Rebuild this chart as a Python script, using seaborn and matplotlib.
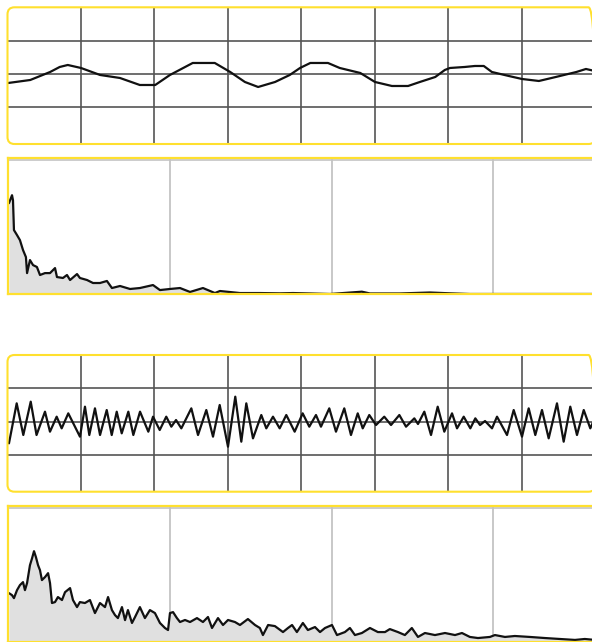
import numpy as np
import matplotlib
matplotlib.use("Agg")
import matplotlib.pyplot as plt
from matplotlib.patches import FancyBboxPatch
import seaborn as sns

sns.set_style("white")
plt.rcParams['font.family'] = ['DejaVu Sans']

# ---------------- data ----------------
# Scope trace 1 (time in divisions, amplitude in divisions)
t1 = [0.01, 0.31, 0.58, 0.71, 0.82, 1.00, 1.26, 1.53, 1.80, 2.01, 2.21, 2.52, 2.82,
      3.03, 3.23, 3.41, 3.64, 3.84, 3.98, 4.12, 4.36, 4.52, 4.80, 5.00, 5.23, 5.45,
      5.61, 5.82, 5.95, 6.02, 6.22, 6.36, 6.48, 6.59, 6.82, 7.00, 7.23, 7.46, 7.74,
      7.87, 7.99]
v1 = [-0.27, -0.18, 0.06, 0.21, 0.27, 0.18, -0.03, -0.12, -0.33, -0.33, -0.03, 0.33,
      0.33, 0.06, -0.24, -0.39, -0.24, -0.03, 0.18, 0.33, 0.33, 0.18, 0.03, -0.24,
      -0.36, -0.36, -0.24, -0.09, 0.12, 0.18, 0.21, 0.24, 0.24, 0.06, -0.06, -0.15,
      -0.21, -0.09, 0.06, 0.15, 0.09]

# Scope trace 2
t2 = [0.02, 0.125, 0.215, 0.316, 0.395, 0.510, 0.578, 0.669, 0.737, 0.827, 0.986, 1.054,
      1.113, 1.190, 1.259, 1.350, 1.418, 1.486, 1.554, 1.644, 1.712, 1.803, 1.916, 1.980,
      2.071, 2.160, 2.229, 2.293, 2.365, 2.501, 2.592, 2.705, 2.796, 2.887, 3.000, 3.099,
      3.181, 3.249, 3.340, 3.453, 3.521, 3.612, 3.703, 3.793, 3.907, 4.016, 4.106, 4.197,
      4.265, 4.378, 4.469, 4.582, 4.673, 4.765, 4.833, 4.922, 5.014, 5.126, 5.218, 5.331,
      5.422, 5.535, 5.585, 5.671, 5.762, 5.853, 5.943, 6.048, 6.116, 6.207, 6.297, 6.365,
      6.429, 6.497, 6.592, 6.660, 6.796, 6.887, 7.000, 7.091, 7.181, 7.272, 7.363, 7.476,
      7.567, 7.657, 7.748, 7.840, 7.929, 7.990]
v2 = [-0.65, 0.55, -0.40, 0.60, -0.40, 0.30, -0.30, 0.15, -0.20, 0.25, -0.45, 0.45,
      -0.40, 0.40, -0.40, 0.35, -0.40, 0.30, -0.35, 0.30, -0.40, 0.30, -0.30, 0.15,
      -0.25, 0.15, -0.15, 0.05, -0.20, 0.40, -0.40, 0.35, -0.45, 0.50, -0.75, 0.75,
      -0.60, 0.55, -0.50, 0.20, -0.20, 0.15, -0.20, 0.20, -0.30, 0.25, -0.15, 0.20,
      -0.15, 0.40, -0.30, 0.40, -0.40, 0.25, -0.20, 0.20, -0.10, 0.15, -0.10, 0.20,
      -0.15, 0.10, -0.07, 0.30, -0.40, 0.45, -0.30, 0.25, -0.20, 0.15, -0.20, 0.10,
      -0.10, 0.02, -0.20, 0.15, -0.40, 0.35, -0.45, 0.40, -0.40, 0.35, -0.50, 0.55,
      -0.60, 0.45, -0.40, 0.35, -0.20, 0.10]

# Spectrum 1 (frequency in divisions, magnitude in % of full scale)
f1 = [0.004, 0.023, 0.029, 0.035, 0.054, 0.072, 0.091, 0.109, 0.116, 0.134, 0.153, 0.177,
      0.196, 0.227, 0.258, 0.289, 0.301, 0.338, 0.363, 0.382, 0.425, 0.443, 0.487, 0.524,
      0.567, 0.610, 0.641, 0.691, 0.753, 0.814, 0.895, 0.938, 1.000, 1.062, 1.124, 1.204,
      1.278, 1.309, 1.433, 1.556, 1.680, 1.761, 1.866, 1.990, 2.187, 2.237, 2.422, 2.608,
      2.732, 2.855, 3.610]
m1 = [66.9, 72.8, 69.1, 47.1, 43.4, 39.7, 32.4, 27.2, 15.4, 25.0, 21.3, 19.9,
      14.0, 15.4, 15.4, 19.1, 12.5, 11.8, 14.0, 10.3, 14.7, 11.8, 10.3, 8.1,
      8.1, 9.6, 4.4, 5.9, 3.7, 4.4, 6.6, 2.9, 3.7, 4.4, 1.5, 4.4,
      0.7, 2.2, 0.7, 0.7, 0.5, 0.7, 0.4, 0.0, 1.7, 0.4, 0.4, 1.1,
      0.5, 0.0, 0.0]

# Spectrum 2
f2 = [0.004, 0.023, 0.035, 0.054, 0.072, 0.091, 0.103, 0.116, 0.134, 0.147, 0.159, 0.171,
      0.184, 0.196, 0.208, 0.227, 0.246, 0.258, 0.270, 0.289, 0.307, 0.332, 0.351, 0.382,
      0.400, 0.425, 0.443, 0.474, 0.505, 0.536, 0.567, 0.598, 0.617, 0.641, 0.660, 0.678,
      0.703, 0.722, 0.740, 0.765, 0.784, 0.814, 0.845, 0.876, 0.907, 0.938, 0.969, 0.988,
      1.000, 1.019, 1.043, 1.062, 1.093, 1.124, 1.167, 1.204, 1.235, 1.260, 1.297, 1.328,
      1.359, 1.402, 1.433, 1.482, 1.526, 1.556, 1.575, 1.607, 1.649, 1.699, 1.730, 1.755,
      1.785, 1.822, 1.853, 1.897, 1.928, 1.959, 2.002, 2.033, 2.082, 2.113, 2.144, 2.187,
      2.237, 2.286, 2.330, 2.360, 2.410, 2.453, 2.496, 2.534, 2.577, 2.639, 2.701, 2.763,
      2.806, 2.855, 2.905, 2.979, 3.010, 3.072, 3.133, 3.226, 3.319, 3.412, 3.505, 3.566,
      3.628]
m2 = [35.8, 34.3, 32.1, 38.0, 41.7, 43.9, 38.0, 43.2, 56.4, 61.5, 66.7, 62.3,
      56.4, 52.7, 45.4, 47.6, 50.5, 43.2, 28.5, 29.2, 32.9, 30.7, 36.5, 39.5,
      30.7, 25.5, 29.2, 28.5, 30.7, 21.1, 28.5, 25.5, 32.9, 23.3, 19.6, 17.4,
      25.5, 15.9, 23.3, 13.8, 18.2, 25.5, 17.4, 23.3, 21.1, 13.8, 10.1, 8.6,
      21.1, 21.8, 17.4, 14.5, 16.0, 14.5, 17.4, 14.5, 18.2, 10.1, 17.4, 12.3,
      16.0, 14.5, 12.3, 16.7, 12.3, 10.1, 4.9, 12.3, 11.5, 7.1, 10.1, 12.3,
      7.1, 13.8, 8.6, 10.8, 7.1, 10.1, 12.3, 4.9, 7.1, 10.1, 4.9, 6.4,
      10.1, 7.1, 7.1, 9.3, 7.1, 4.9, 10.1, 3.5, 6.4, 4.9, 6.4, 4.9,
      6.4, 3.5, 2.7, 3.5, 4.9, 3.5, 4.2, 3.5, 2.7, 2.0, 1.3, 2.0,
      1.3]

# ---------------- layout ----------------
W, H = 592, 642
fig = plt.figure(figsize=(W / 100, H / 100), dpi=100)
fig.patch.set_facecolor("white")

YELLOW = "#FFE02E"
SCOPE_GRID = "#555555"
SPEC_GRID = "#c4c4c4"


def ax_px(x0, y0, x1, y1):
    return fig.add_axes([x0 / W, 1 - y1 / H, (x1 - x0) / W, (y1 - y0) / H])


def scope(y0, y1, t, v):
    x0, x1 = 7.5, 595.5
    ax = ax_px(x0, y0, x1, y1)
    ax.set_xlim(0, 8)
    ax.set_ylim(-2.1, 2.0)
    ax.set_xticks(range(1, 8))
    ax.set_yticks([-1, 0, 1])
    ax.grid(True, color=SCOPE_GRID, lw=1.2)
    ax.tick_params(length=0, labelbottom=False, labelleft=False)
    for s in ax.spines.values():
        s.set_visible(False)
    ax.set_facecolor("none")
    sns.lineplot(x=t, y=v, ax=ax, color="#111111", lw=1.6, sort=False,
                 estimator=None, solid_joinstyle="round", solid_capstyle="round")
    ax.set_xlabel("")
    ax.set_ylabel("")
    box = FancyBboxPatch((x0 / 100, (H - y1) / 100), (x1 - x0) / 100, (y1 - y0) / 100,
                         boxstyle="round,pad=0,rounding_size=0.07",
                         transform=fig.dpi_scale_trans, facecolor="none",
                         edgecolor=YELLOW, lw=1.5, zorder=5)
    fig.add_artist(box)
    return ax


def spectrum(y0, y1, f, m):
    ax = ax_px(8.3, y0, 655, y1)
    ax.set_xlim(0, 4)
    ax.set_ylim(0, 100)
    ax.set_xticks([1, 2, 3])
    ax.set_yticks([])
    ax.grid(True, axis="x", color=SPEC_GRID, lw=1.3)
    ax.tick_params(length=0, labelbottom=False, labelleft=False)
    ax.axhline(98.6, color=SPEC_GRID, lw=1.2, zorder=1)
    ax.fill_between(f, m, 0, color="#e0e0e0", lw=0, zorder=1.5)
    sns.lineplot(x=f, y=m, ax=ax, color="#111111", lw=1.6, sort=False,
                 estimator=None, zorder=2, solid_joinstyle="round")
    ax.set_xlabel("")
    ax.set_ylabel("")
    for side in ("left", "top", "bottom"):
        ax.spines[side].set_color(YELLOW)
        ax.spines[side].set_linewidth(1.6)
        ax.spines[side].set_zorder(3)
    ax.spines["right"].set_visible(False)
    return ax


scope(7.3, 144, t1, v1)
spectrum(158.3, 294, f1, m1)
scope(355, 491.7, t2, v2)
spectrum(506, 641.7, f2, m2)

fig.savefig("out.png", dpi=100, facecolor="white")
